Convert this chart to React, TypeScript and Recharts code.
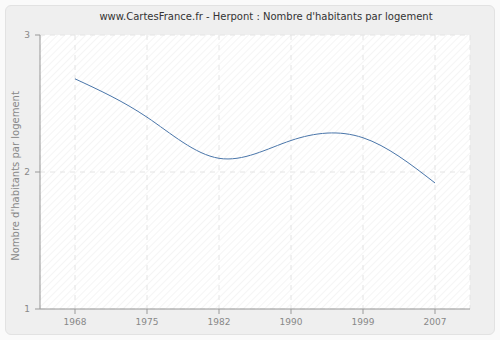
import { LineChart, Line, XAxis, YAxis, CartesianGrid } from 'recharts';

const years = ['1968', '1975', '1982', '1990', '1999', '2007'];
const ratio = [2.68, 2.4, 2.1, 2.23, 2.25, 1.92];
const yTicks = [1, 2, 3];

const data = years.map((year, i) => ({ year, value: ratio[i] }));

const FONT = 'DejaVu Sans, Verdana, sans-serif';

export default function App() {
  return (
    <div style={{ position: 'absolute', left: 0, top: 0, width: 500, height: 340, background: '#fafafa' }}>
      {/* pattern used as the plot background */}
      <svg width={0} height={0} style={{ position: 'absolute' }}>
        <defs>
          <pattern id='hatch' width='5' height='5' patternUnits='userSpaceOnUse' patternTransform='rotate(45)'>
            <rect width='5' height='5' fill='#ffffff' />
            <line x1='0' y1='0' x2='0' y2='5' stroke='#efefef' strokeWidth='1.2' />
          </pattern>
        </defs>
      </svg>
      <div
        style={{
          position: 'absolute',
          left: 5,
          top: 5,
          width: 488,
          height: 328,
          background: '#efefef',
          border: '1px solid #e2e2e2',
          borderRadius: 6,
        }}
      />
      <div
        style={{
          position: 'absolute',
          left: 0,
          top: 11,
          width: 532,
          textAlign: 'center',
          fontFamily: FONT,
          fontSize: 10,
          color: '#333',
        }}
      >
        www.CartesFrance.fr - Herpont : Nombre d'habitants par logement
      </div>
      <div style={{ position: 'absolute', left: 0, top: 0 }}>
        <LineChart width={500} height={340} data={data} margin={{ top: 35, right: 30, bottom: 0, left: 0 }}>
          <CartesianGrid stroke='#e4e4e4' strokeDasharray='5 5' fill='url(#hatch)' fillOpacity={1} />
          <XAxis
            dataKey='year'
            padding={{ left: 35, right: 35 }}
            stroke='#999'
            tickLine={{ stroke: '#999' }}
            tickSize={5}
            tick={{ fill: '#888', fontSize: 9, fontFamily: FONT }}
            tickMargin={5}
            height={31}
          />
          <YAxis
            domain={[1, 3]}
            ticks={yTicks}
            width={40}
            stroke='#999'
            tickLine={{ stroke: '#999' }}
            tickSize={5}
            tick={{ fill: '#888', fontSize: 9, fontFamily: FONT }}
            tickMargin={5}
            label={{
              value: "Nombre d'habitants par logement",
              angle: -90,
              position: 'insideLeft',
              dx: 10,
              dy: 4,
              style: { fill: '#888', fontSize: 10, fontFamily: FONT, textAnchor: 'middle' },
            }}
          />
          <Line
            type='natural'
            dataKey='value'
            stroke='#4a76aa'
            strokeWidth={1}
            dot={false}
            activeDot={false}
            isAnimationActive={false}
          />
        </LineChart>
      </div>
    </div>
  );
}
